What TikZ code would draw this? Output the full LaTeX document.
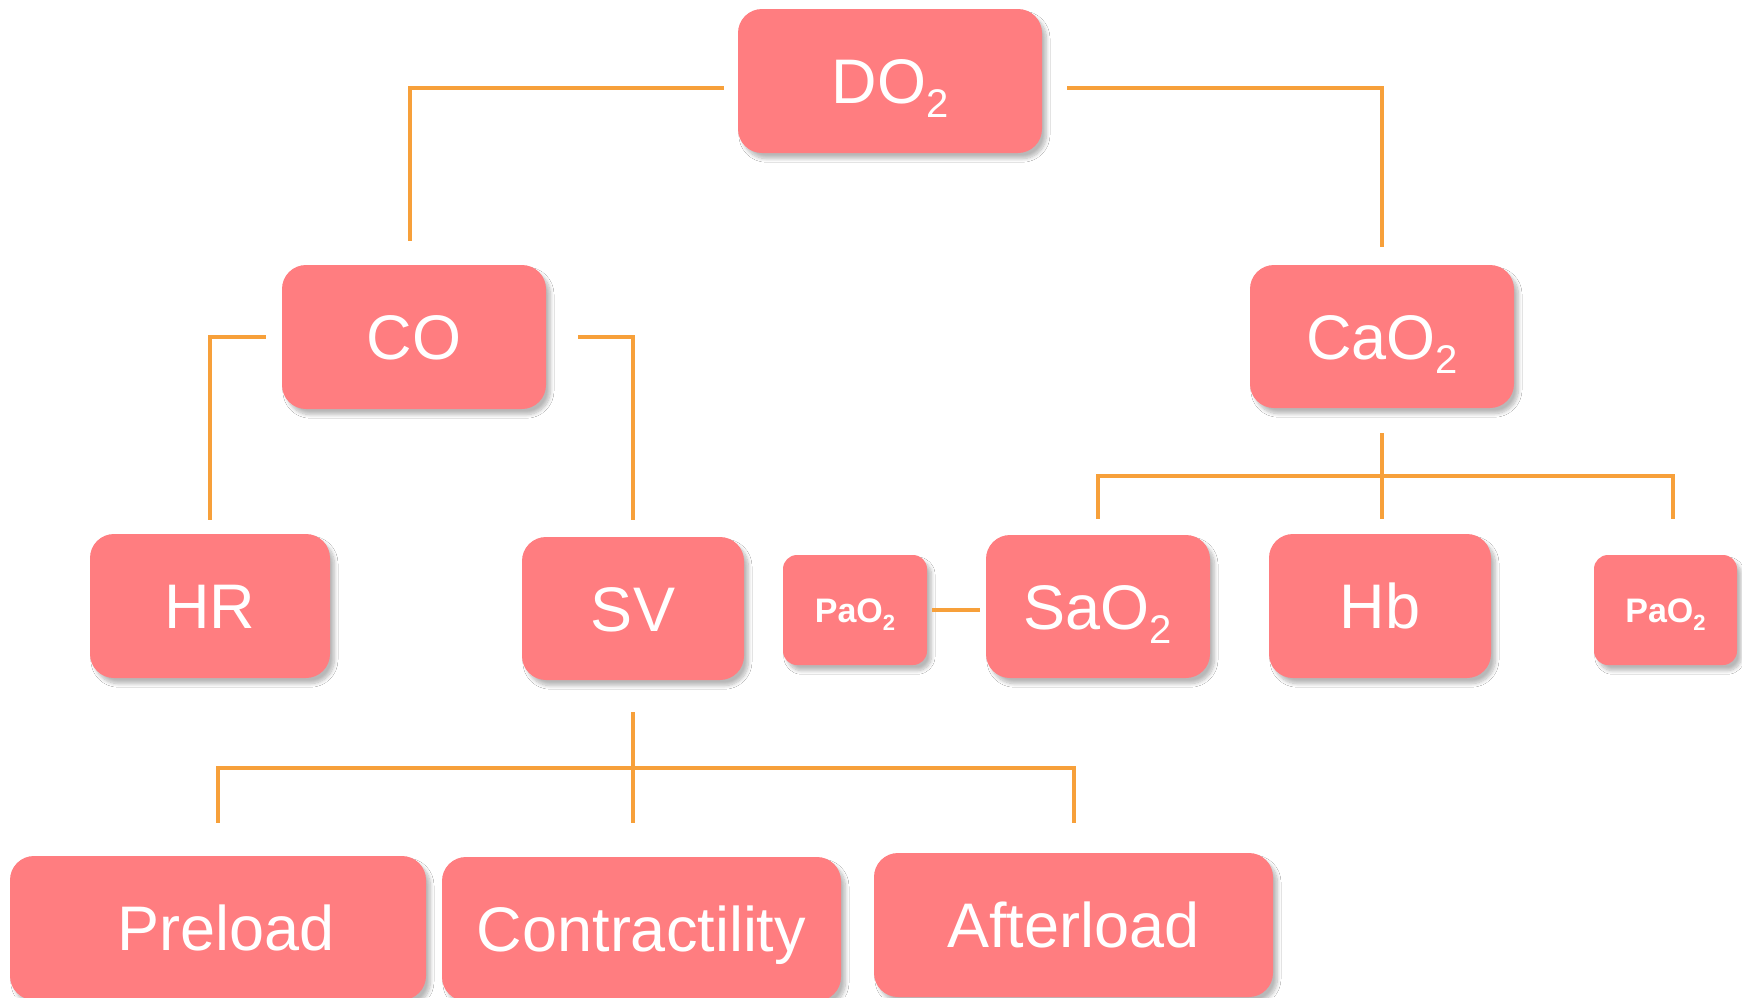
\documentclass[tikz,border=0pt]{standalone}
\usepackage{fontspec}
\setmainfont{Liberation Sans}
\usetikzlibrary{shadows.blur}
\definecolor{boxfill}{RGB}{255,125,128}
\definecolor{linkor}{RGB}{247,160,58}

% coordinates are in pixels (y grows downward), 1px = 0.5pt
\tikzset{
  box/.style={fill=boxfill, text=white, rounded corners=12pt, inner sep=0pt,
    font=\fontsize{31.5}{36}\selectfont, text height=22.6pt, text depth=0pt,
    blur shadow={shadow xshift=2.2pt, shadow yshift=-2.8pt, shadow blur radius=1.8pt,
      shadow blur steps=8, shadow opacity=28}},
  smallbox/.style={box, rounded corners=7pt, font=\bfseries\fontsize{17}{20}\selectfont, text height=12.2pt},
  link/.style={draw=linkor, line width=2pt},
}
\newcommand{\bigsub}[1]{\raisebox{-7pt}{\fontsize{20}{20}\selectfont #1}}
\newcommand{\smallsub}[1]{\raisebox{-4pt}{\fontsize{11}{11}\selectfont\bfseries #1}}

\begin{document}
\begin{tikzpicture}[x=0.5pt, y=-0.5pt]
  \clip (0,0) rectangle (1742,997);
  \fill[white] (0,0) rectangle (1742,997);

  % boxes
  \node[box, minimum width=152pt, minimum height=72pt] (do2) at (890,81) {DO\bigsub{2}};
  \node[box, minimum width=132pt, minimum height=72pt] (co) at (414,337) {CO};
  \node[box, minimum width=132pt, minimum height=71.5pt] (cao2) at (1382,336.5) {CaO\bigsub{2}};
  \node[box, minimum width=120pt, minimum height=72pt] (hr) at (210,606) {HR};
  \node[box, minimum width=111pt, minimum height=71.5pt] (sv) at (633,608.5) {SV};
  \node[smallbox, minimum width=72pt, minimum height=55pt] (pao2a) at (855,610) {PaO\smallsub{2}};
  \node[box, minimum width=112pt, minimum height=71.5pt] (sao2) at (1098,606.5) {SaO\bigsub{2}};
  \node[box, minimum width=111pt, minimum height=72pt] (hb) at (1380,606) {Hb};
  \node[smallbox, minimum width=71.5pt, minimum height=55pt] (pao2b) at (1665.5,610) {PaO\smallsub{2}};
  \node[box, minimum width=208pt, minimum height=72pt] (pre) at (218,928) {\hspace*{8pt}Preload};
  \node[box, minimum width=199.5pt, minimum height=72pt] (con) at (641.5,929) {Contractility};
  \node[box, minimum width=199.5pt, minimum height=72pt] (aft) at (1073.5,925) {Afterload};

  % DO2 branches
  \draw[link, shorten <=7pt, shorten >=12pt] ([yshift=-3.5pt]do2.west) -| ([xshift=-2pt]co.north);
  \draw[link, shorten <=12.5pt, shorten >=9pt] ([yshift=-3.5pt]do2.east) -| (cao2.north);

  % CO branches
  \draw[link, shorten <=8pt, shorten >=7pt] (co.west) -| (hr.north);
  \draw[link, shorten <=16pt, shorten >=8.5pt] (co.east) -| (sv.north);

  % CaO2 branches
  \coordinate (cj) at (1382,476);
  \draw[link, shorten <=12.5pt, shorten >=7.5pt] (cao2.south) -- (cao2.south |- hb.north);
  \draw[link, shorten >=8pt] (cj) -| (sao2.north);
  \draw[link, shorten >=18pt] (cj) -| ([xshift=3.75pt]pao2b.north);
  \draw[link, shorten <=2.5pt, shorten >=3pt] (pao2a.east) -- (pao2a.east -| sao2.west);

  % SV branches
  \coordinate (sj) at (633,768);
  \draw[link, shorten <=16pt, shorten >=17pt] (sv.south) -- (sv.south |- con.north);
  \draw[link, shorten >=16.5pt] (sj) -| (pre.north);
  \draw[link, shorten >=15pt] (sj) -| (aft.north);
\end{tikzpicture}
\end{document}
